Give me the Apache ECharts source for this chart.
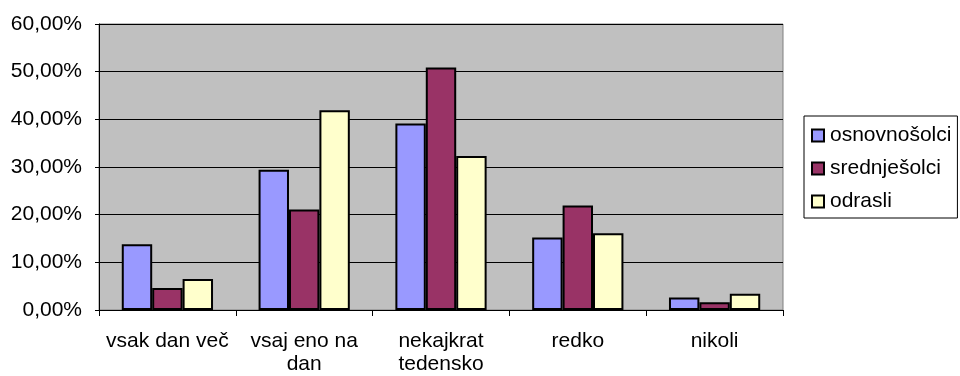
<!DOCTYPE html>
<html>
<head>
<meta charset="utf-8">
<script src="https://cdn.jsdelivr.net/npm/echarts@6/dist/echarts.min.js"></script>
<style>
  html, body { margin: 0; padding: 0; background: #ffffff; }
  #chart { width: 960px; height: 376px; }
</style>
</head>
<body>
<div id="chart"></div>
<script>
// Pogostost (deleži v %) po skupinah anketirancev
const categories = ['vsak dan več', 'vsaj eno na\ndan', 'nekajkrat\ntedensko', 'redko', 'nikoli'];
const seriesNames = ['osnovnošolci', 'srednješolci', 'odrasli'];
const osnovnosolci = [13.8, 29.4, 39.1, 15.2, 2.6];
const srednjesolci = [4.6, 21.1, 50.9, 21.9, 1.6];
const odrasli = [6.5, 41.9, 32.3, 16.1, 3.4];
const yTicks = { min: 0, max: 60, interval: 10 };

const colors = ['#9999FF', '#993366', '#FFFFCC'];
const FONT = '"Liberation Sans", Arial, sans-serif';
const pct = v => v.toFixed(2).replace('.', ',') + '%';

const chart = echarts.init(document.getElementById('chart'), null, { renderer: 'canvas' });

const values = [osnovnosolci, srednjesolci, odrasli];

chart.setOption({
  animation: false,
  textStyle: { fontFamily: FONT, color: '#000' },
  grid: {
    left: 99, right: 177, top: 24, bottom: 66,
    show: true,
    backgroundColor: '#C0C0C0',
    borderColor: '#808080',
    borderWidth: 1
  },
  legend: {
    orient: 'vertical',
    left: 804,
    top: 116,
    padding: [9, 6, 6, 7],
    itemWidth: 12,
    itemHeight: 12,
    itemGap: 12,
    borderColor: '#000',
    borderWidth: 1,
    icon: 'rect',
    textStyle: { fontFamily: FONT, fontSize: 21, color: '#000', padding: [0, 0, 0, 1] },
    data: seriesNames.map((n, i) => ({
      name: n,
      itemStyle: { color: colors[i], borderColor: '#000', borderWidth: 2 }
    }))
  },
  xAxis: {
    type: 'category',
    data: categories,
    boundaryGap: true,
    axisLine: { lineStyle: { color: '#000', width: 1 } },
    axisTick: { show: true, length: 6, lineStyle: { color: '#000' }, alignWithLabel: false },
    axisLabel: {
      fontFamily: FONT, fontSize: 21, color: '#000', margin: 20, lineHeight: 23,
      interval: 0
    },
    splitLine: { show: false }
  },
  yAxis: {
    type: 'value',
    min: yTicks.min,
    max: yTicks.max,
    interval: yTicks.interval,
    axisLine: { show: true, lineStyle: { color: '#000', width: 1 } },
    axisTick: { show: true, length: 4, lineStyle: { color: '#000' } },
    axisLabel: { fontFamily: FONT, fontSize: 21, color: '#000', margin: 17, formatter: pct },
    splitLine: { show: true, lineStyle: { color: '#000', width: 1 } }
  },
  series: seriesNames.map((name, i) => ({
    name: name,
    type: 'bar',
    data: values[i],
    barGap: '0%',
    barCategoryGap: '33.3%',
    itemStyle: { color: colors[i], borderColor: '#000', borderWidth: 2 }
  }))
});
</script>
</body>
</html>
